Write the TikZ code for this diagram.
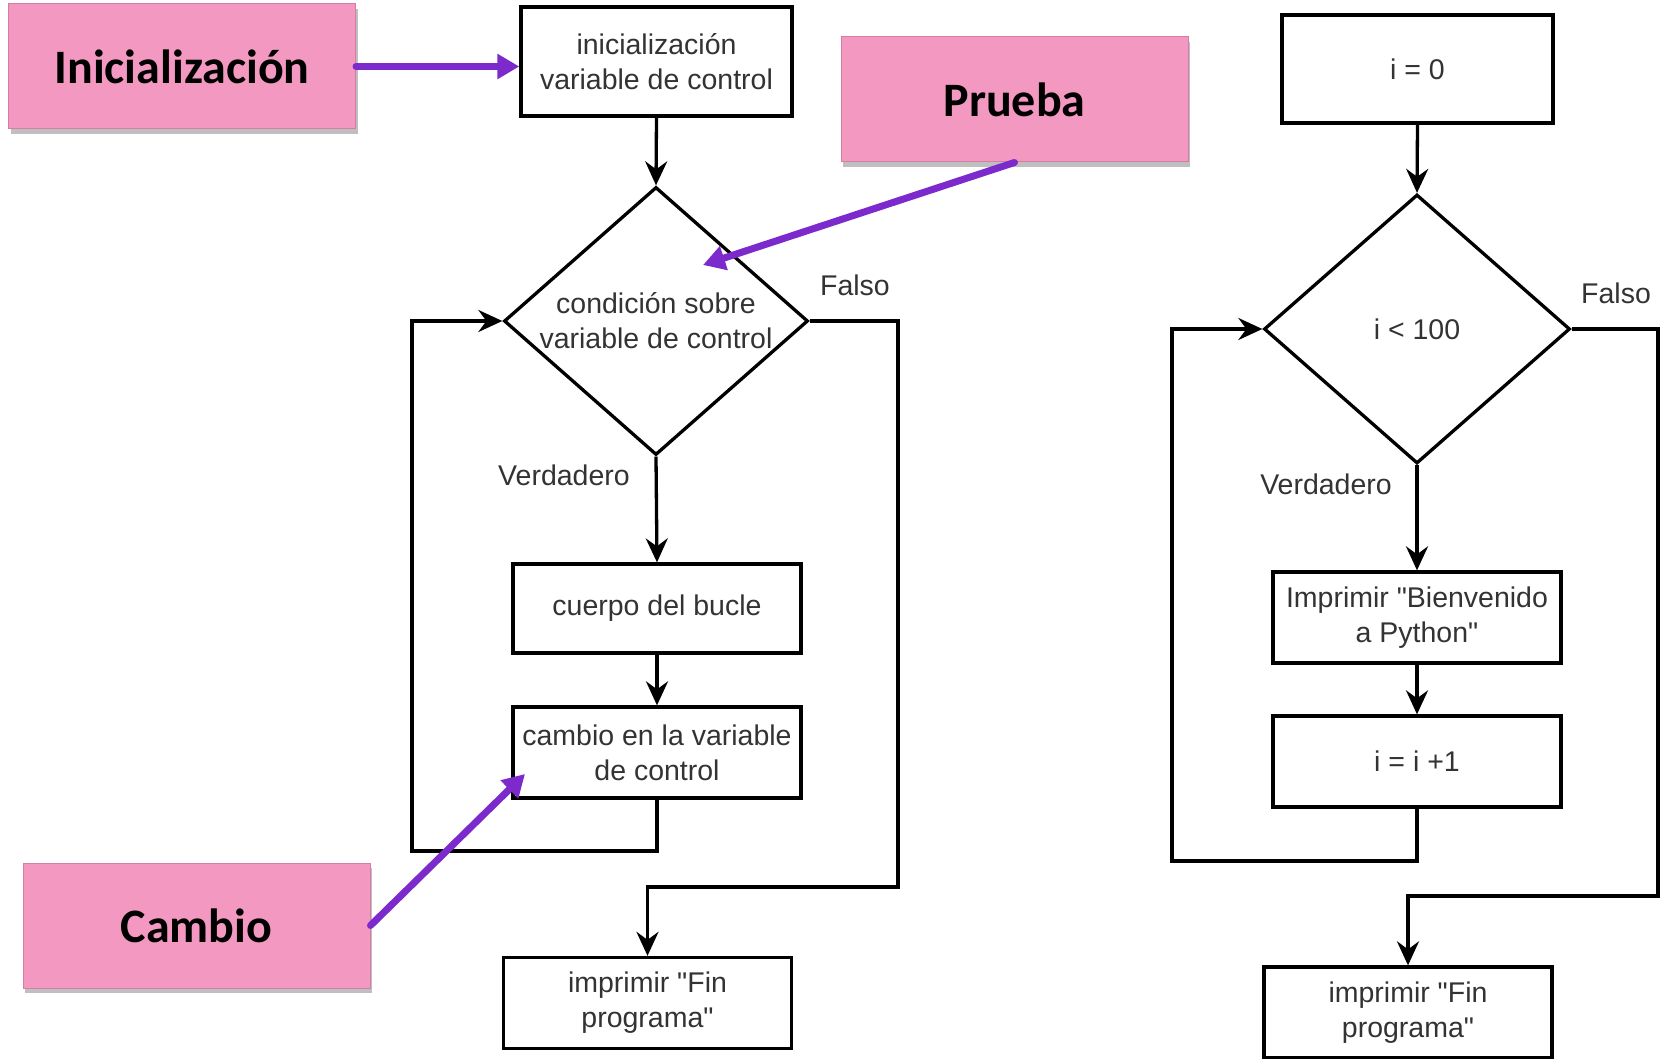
\documentclass[tikz,border=0pt]{standalone}
\usepackage{fontspec}
\setmainfont{Liberation Sans}[Ligatures=TeXOff]
\newfontfamily\tagfont{Carlito}
\usetikzlibrary{arrows.meta, shapes.geometric, shadows}
\definecolor{pinkfill}{RGB}{243,153,193}
\definecolor{pinkedge}{RGB}{212,126,166}
\definecolor{violet}{RGB}{124,42,204}
\definecolor{txt}{RGB}{51,51,51}

\begin{document}
\begin{tikzpicture}[x=1pt, y=-1pt,
        every node/.style={font=\fontsize{28.5}{35}\selectfont, text=txt},
        block/.style={draw=black, line width=3.3pt, rectangle, inner sep=0pt, align=center, minimum width=288pt, minimum height=91pt},
        decision/.style={draw=black, line width=3.3pt, diamond, inner sep=-12pt, align=center, minimum width=304pt, minimum height=268pt},
        labelbox/.style={fill=pinkfill, draw=pinkedge, line width=1pt, inner sep=0pt, minimum width=347pt, minimum height=125pt, text=black, font=\tagfont\bfseries\fontsize{48}{56}\selectfont, drop shadow={shadow xshift=2pt, shadow yshift=-5pt, opacity=0.5}},
        flow/.style={-{Stealth[length=24pt, width=22pt, inset=8pt]}, line width=3.3pt},
        pointer/.style={-{Triangle[length=22pt, width=24pt]}, line width=7pt, draw=violet, line cap=round}]
        \useasboundingbox (0,0) rectangle (1674,1059);

        % left flowchart
        \node[block, minimum width=271pt, minimum height=109pt] (init) at (656.5,61.5) {inicialización\\variable de control};
        \node[decision] (cond) at (656,321) {condición sobre\\variable de control};
        \node[block, minimum height=89pt] (body) at (657,608.5) {cuerpo del bucle};
        \node[block] (change) at (657,752.5) {cambio en la variable\\de control};
        \node[block] (endL) at (647.5,1003) {imprimir "Fin\\programa"};
        \node (trueL) at (564,475) {Verdadero};
        \node (falseL) at (855,285) {Falso};
        \coordinate (backL) at (412,851);
        \coordinate (exitL) at (898,887);

        \draw[flow] (init.south) -- (cond.north);
        \draw[flow] (cond.south) -- (body.north);
        \draw[flow] (body.south) -- (change.north);
        \draw[flow] (change.south) |- (backL) |- (cond.west);
        \draw[flow] (cond.east) -| (exitL) -| (endL.north);

        % right flowchart
        \node[block, minimum width=271pt, minimum height=108pt] (start) at (1417.5,69) {i = 0};
        \node[decision, minimum width=306pt, minimum height=269pt] (test) at (1417,329) {i < 100};
        \node[block] (show) at (1417,617.5) {Imprimir "Bienvenido\\a Python"};
        \node[block] (incr) at (1417,761.5) {i = i +1};
        \node[block] (endR) at (1408,1012.5) {imprimir "Fin\\programa"};
        \node (trueR) at (1326,484) {Verdadero};
        \node (falseR) at (1616,293) {Falso};
        \coordinate (backR) at (1172,861);
        \coordinate (exitR) at (1658,896);

        \draw[flow] (start.south) -- (test.north);
        \draw[flow] (test.south) -- (show.north);
        \draw[flow] (show.south) -- (incr.north);
        \draw[flow] (incr.south) |- (backR) |- (test.west);
        \draw[flow] (test.east) -| (exitR) -| (endR.north);

        % pink labels
        \node[labelbox] (tagInit) at (182,66.5) {Inicialización};
        \node[labelbox] (tagTest) at (1014.5,99.5) {Prueba};
        \node[labelbox] (tagChange) at (196.5,925.5) {Cambio};
        \coordinate (testTip) at (703,265);
        \coordinate (changeTip) at (525,774);

        \draw[pointer] (tagInit.east) -- (tagInit.east -| init.west);
        \draw[pointer] (tagTest.south) -- (testTip);
        \draw[pointer] (tagChange.east) -- (changeTip);
\end{tikzpicture}
\end{document}
